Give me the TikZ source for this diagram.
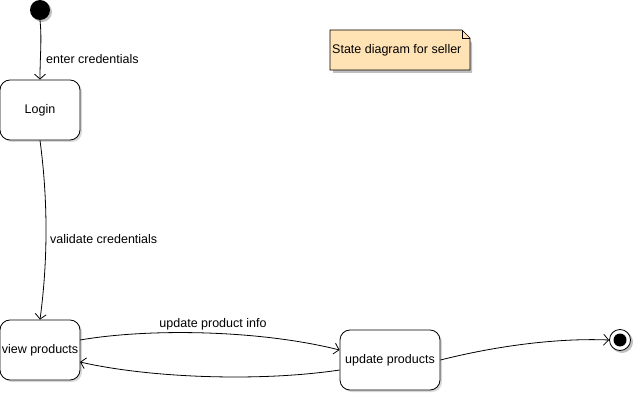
\documentclass[tikz,border=0pt]{standalone}
\usepackage{fontspec}
\setmainfont{Liberation Sans}
\usetikzlibrary{arrows.meta,shadows}
\definecolor{notefill}{HTML}{FFE3B5}
\newcommand{\lowered}[1]{\raisebox{-2pt}{#1}}
\tikzset{
  statebox/.style={draw=black, fill=white, rounded corners=10pt, line width=0.8pt,
    minimum width=80pt, minimum height=60pt, inner sep=0pt, font=\fontsize{12.5}{14}\selectfont,
    drop shadow={shadow xshift=2pt, shadow yshift=-2pt, fill=black!25, opacity=0.6}},
  trans/.style={draw=black, line width=0.8pt, -{Straight Barb[length=5pt,width=11pt]}},
  lbl/.style={font=\fontsize{12.5}{14}\selectfont, inner sep=0pt},
}
\begin{document}
\begin{tikzpicture}[x=1pt,y=-1pt]
\useasboundingbox (0,0) rectangle (635,401);
% initial
\fill[black!25] (42,12) circle (10);
\node[circle, fill=black, minimum size=20pt, inner sep=0pt] (init) at (40,10) {};
% final
\fill[black!25] (622,342) circle (11);
\node[circle, draw=black, fill=white, line width=0.8pt, minimum size=21pt, inner sep=0pt] (fin) at (620,340) {};
\fill[black] (fin.center) circle (6.5);
% states
\node[statebox] (login) at (40,110) {\lowered{Login}};
\node[statebox] (view) at (40,350) {\lowered{view products}};
\node[statebox, minimum width=100pt] (upd) at (390,360) {\lowered{update products}};
% note
\fill[black!25] (333,33) -- (462,33) -- (472,43) -- (472,73) -- (333,73) -- cycle;
\draw[fill=notefill, line width=0.6pt] (330,30) -- (462,30) -- (470,38) -- (470,70) -- (330,70) -- cycle;
\draw[line width=0.6pt] (462,30) -- (462,38) -- (470,38);
\node[lbl, anchor=west] (note) at (332,50) {State diagram for seller};
% transitions
\draw[trans] (init.south) .. controls (42,40) and (40,55) .. (login.north);
\node[lbl, anchor=west] (l1) at (46,59) {enter credentials};
\draw[trans] (login.south) .. controls (48,200) and (48,260) .. (view.north);
\node[lbl, anchor=west] (l2) at (50,239) {validate credentials};
\draw[trans] (80,340) .. controls (150,328) and (260,330) .. (upd.west |- 0,350);
\node[lbl] (l3) at (213,324) {update product info};
\draw[trans] (upd.west |- 0,370) .. controls (260,382) and (150,378) .. (80,362);
\draw[trans] (upd.east) .. controls (500,345) and (560,338) .. (fin.west);
\end{tikzpicture}
\end{document}
